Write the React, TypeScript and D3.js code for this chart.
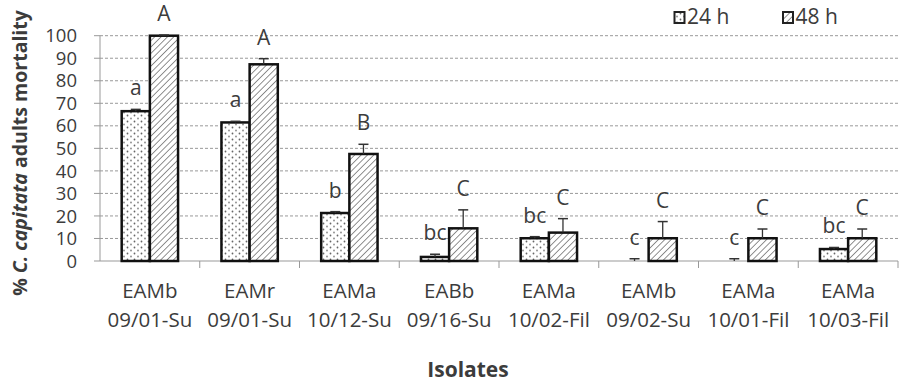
import React from 'react';
import * as d3 from 'd3';

const categories = [
  ['EAMb', '09/01-Su'],
  ['EAMr', '09/01-Su'],
  ['EAMa', '10/12-Su'],
  ['EABb', '09/16-Su'],
  ['EAMa', '10/02-Fil'],
  ['EAMb', '09/02-Su'],
  ['EAMa', '10/01-Fil'],
  ['EAMa', '10/03-Fil'],
];
const series = ['24 h', '48 h'];
const values24 = [66.5, 61.5, 21.3, 1.8, 10.1, 0, 0, 5.3];
const errors24 = [0.8, 0.5, 0.6, 1.2, 0.7, 1.0, 1.0, 0.7];
const values48 = [100, 87.3, 47.5, 14.5, 12.6, 10.1, 10.1, 10.1];
const errors48 = [0.3, 2.5, 4.3, 8.2, 6.2, 7.4, 4.1, 4.1];
const letters24 = ['a', 'a', 'b', 'bc', 'bc', 'c', 'c', 'bc'];
const letters48 = ['A', 'A', 'B', 'C', 'C', 'C', 'C', 'C'];
const yTicks = [0, 10, 20, 30, 40, 50, 60, 70, 80, 90, 100];

const W = 899;
const H = 382;
const FONT = "'Open Sans', sans-serif";
const TXT = '#3c3c3c';

export default function App() {
  const left = 100;
  const right = 898;
  const top = 35.7;
  const bottom = 261;
  const keys = categories.map((c) => c.join(' '));
  const x0 = d3.scaleBand<string>().domain(keys).range([left, right]).paddingInner(0).paddingOuter(0);
  const x1 = d3
    .scaleBand<string>()
    .domain(series)
    .range([0, x0.bandwidth()])
    .paddingInner(0)
    .paddingOuter(0.77);
  const y = d3.scaleLinear().domain([0, 100]).range([bottom, top]);

  const data = [
    { key: series[0], vals: values24, errs: errors24, letters: letters24, fill: 'url(#dots)' },
    { key: series[1], vals: values48, errs: errors48, letters: letters48, fill: 'url(#hatch)' },
  ];

  const bw = x1.bandwidth();

  return (
    <svg
      width={W}
      height={H}
      style={{ position: 'absolute', left: 0, top: 0, background: '#fff' }}
      fontFamily={FONT}
    >
      <defs>
        <pattern id="dots" width="7" height="6" patternUnits="userSpaceOnUse">
          <rect width="7" height="6" fill="#fff" />
          <circle cx="1.5" cy="1.5" r="0.9" fill="#666" />
          <circle cx="5" cy="4.5" r="0.9" fill="#888" />
        </pattern>
        <pattern id="hatch" width="4.5" height="4.5" patternUnits="userSpaceOnUse" patternTransform="rotate(45)">
          <rect width="4.5" height="4.5" fill="#fff" />
          <line x1="0" y1="0" x2="0" y2="4.5" stroke="#555" strokeWidth="1.3" />
        </pattern>
      </defs>

      {/* gridlines */}
      {yTicks.filter((t) => t > 0).map((t) => (
        <line
          key={'g' + t}
          x1={left}
          x2={right}
          y1={y(t)}
          y2={y(t)}
          stroke="#999"
          strokeWidth={1}
          strokeDasharray="3,2"
        />
      ))}
      {/* y axis */}
      <line x1={left} x2={left} y1={y(100)} y2={bottom} stroke="#999" />
      {yTicks.map((t) => (
        <g key={'t' + t}>
          <line x1={left - 6} x2={left} y1={y(t)} y2={y(t)} stroke="#999" />
          <text x={left - 23} y={y(t)} dy="0.36em" textAnchor="end" fontSize={18.5} fill={TXT}>
            {t}
          </text>
        </g>
      ))}
      {/* x axis */}
      <line x1={left} x2={right} y1={bottom} y2={bottom} stroke="#999" />
      {keys.map((k, i) => (
        <line key={'xt' + i} x1={x0(k)! + x0.bandwidth()} x2={x0(k)! + x0.bandwidth()} y1={bottom} y2={bottom + 7} stroke="#999" />
      ))}

      {/* bars */}
      {data.map((s) =>
        keys.map((k, i) => {
          const bx = x0(k)! + x1(s.key)!;
          const v = s.vals[i];
          const e = s.errs[i];
          const cx = bx + bw / 2;
          return (
            <g key={s.key + i}>
              {v > 0 && (
                <rect x={bx} y={y(v)} width={bw} height={bottom - y(v)} fill={s.fill} stroke="#111" strokeWidth={2.5} />
              )}
              <line x1={cx} x2={cx} y1={y(v)} y2={y(v + e)} stroke="#333" strokeWidth={1.3} />
              <line x1={cx - 5} x2={cx + 5} y1={y(v + e)} y2={y(v + e)} stroke="#333" strokeWidth={1.5} />
              <text x={cx} y={y(v + e) - 14} textAnchor="middle" fontSize={21} fill={TXT}>
                {s.letters[i]}
              </text>
            </g>
          );
        })
      )}

      {/* x labels */}
      {categories.map((c, i) => {
        const cx = x0(keys[i])! + x0.bandwidth() / 2;
        return (
          <text key={'xl' + i} x={cx} textAnchor="middle" fontSize={20.5} fill={TXT}>
            <tspan x={cx} y={298}>{c[0]}</tspan>
            <tspan x={cx} y={326.5}>{c[1]}</tspan>
          </text>
        );
      })}

      {/* axis titles */}
      <text x={468} y={377} textAnchor="middle" fontSize={21} fontWeight="bold" fill={TXT}>
        Isolates
      </text>
      <text
        transform="translate(27,153) rotate(-90)"
        textAnchor="middle"
        fontSize={19.5}
        fontWeight="bold"
        fill={TXT}
      >
        {'% '}
        <tspan fontStyle="italic">C. capitata</tspan>
        {' adults mortality'}
      </text>

      {/* legend */}
      {series.map((s, i) => {
        const lx = [674.5, 783][i];
        return (
          <g key={'lg' + s}>
            <rect x={lx} y={12} width={10} height={11} fill={i === 0 ? 'url(#dots)' : 'url(#hatch)'} stroke="#222" strokeWidth={2} />
            <text x={lx + 12.5} y={23.5} fontSize={21} fill={TXT}>
              {s}
            </text>
          </g>
        );
      })}
    </svg>
  );
}
